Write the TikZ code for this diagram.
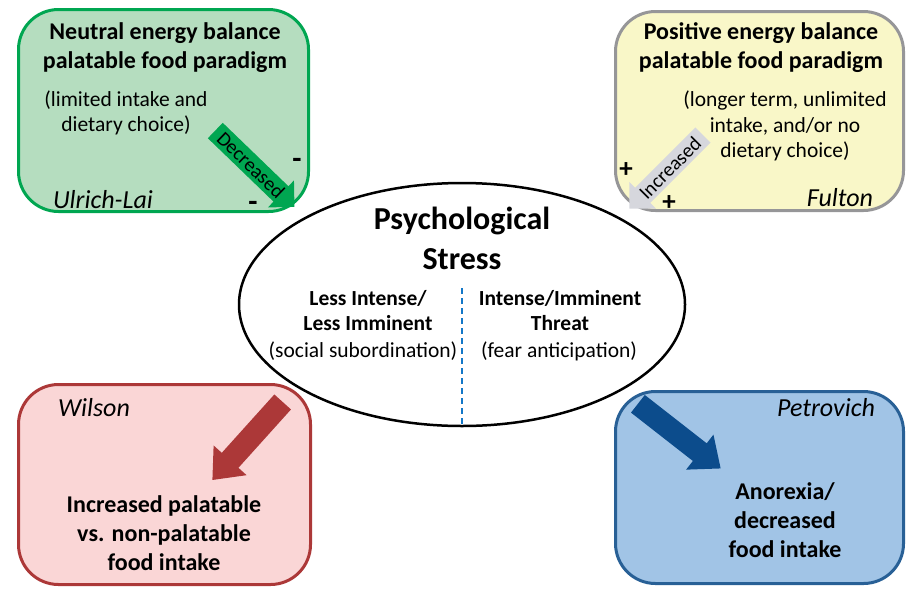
\documentclass[tikz,border=0pt]{standalone}
\usepackage{fontspec}
\setmainfont{Carlito}
\usetikzlibrary{shapes.geometric,shapes.arrows}

\definecolor{neutralline}{RGB}{0,166,81}
\definecolor{neutralfill}{RGB}{181,221,191}
\definecolor{positiveline}{RGB}{150,150,152}
\definecolor{positivefill}{RGB}{249,247,200}
\definecolor{wilsonline}{RGB}{172,56,56}
\definecolor{wilsonfill}{RGB}{250,214,214}
\definecolor{petroline}{RGB}{40,96,150}
\definecolor{petrofill}{RGB}{161,196,230}
\definecolor{petroarrow}{RGB}{12,76,140}
\definecolor{grayarrow}{RGB}{214,215,221}
\definecolor{divider}{RGB}{20,120,200}

\begin{document}
\begin{tikzpicture}[x=1pt,y=-1pt,
    box/.style={draw,line width=3pt,rounded corners=40pt,inner sep=0pt},
    title/.style={font=\fontsize{24}{29}\selectfont\bfseries,align=center},
    note/.style={font=\fontsize{21.5}{25.5}\selectfont,align=center},
    who/.style={font=\fontsize{26}{28}\selectfont\itshape},
    sign/.style={font=\fontsize{30}{30}\selectfont\bfseries,inner sep=0pt},
    blockarrow/.style={single arrow,single arrow tip angle=90,inner xsep=2pt,
      minimum height=110pt,font=\fontsize{20}{20}\selectfont},
    plainarrow/.style={single arrow,single arrow tip angle=80,single arrow head extend=11pt,
      text height=0pt,text depth=0pt,inner xsep=0pt,inner ysep=11pt,minimum height=105pt}]
  \useasboundingbox (0,0) rectangle (909,592);

  % four corner boxes
  \node[box,draw=neutralline,fill=neutralfill,minimum width=290pt,minimum height=202pt] (neutral) at (163.5,110.5) {};
  \node[box,draw=positiveline,fill=positivefill,minimum width=288pt,minimum height=199pt] (positive) at (759.5,111) {};
  \node[box,draw=wilsonline,fill=wilsonfill,minimum width=292pt,minimum height=200pt] (wilson) at (164.5,484.5) {};
  \node[box,draw=petroline,fill=petrofill,minimum width=288pt,minimum height=192pt] (petrovich) at (759.5,487.5) {};

  % neutral energy balance
  \node[title] (neutraltitle) at (165,47.5) {Neutral energy balance\\palatable food paradigm};
  \node[note] (neutralnote) at (126,113) {(limited intake and\\dietary choice)};
  \node[who] (ulrich) at (103,200) {Ulrich-Lai};
  \node[blockarrow,fill=neutralline,rotate=-44,single arrow head extend=8pt,inner ysep=3.5pt] (decreased) at (251,165) {Decreased};
  \node[sign] (minusa) at (297,163) {-};
  \node[sign] (minusb) at (253,206) {-};

  % positive energy balance
  \node[title] (positivetitle) at (761,47.5) {Positive energy balance\\palatable food paradigm};
  \node[note] (positivenote) at (785,126) {(longer term, unlimited\\intake, and/or no\\dietary choice)};
  \node[who] (fulton) at (840,198) {Fulton};
  \node[blockarrow,fill=grayarrow,rotate=45,shape border rotate=180,single arrow head extend=8pt,inner ysep=3.5pt,minimum height=104pt] (increased) at (670,168) {Increased};
  \node[sign,font=\fontsize{27}{27}\selectfont\bfseries] (plusa) at (626,170) {+};
  \node[sign,font=\fontsize{27}{27}\selectfont\bfseries] (plusb) at (669,203) {+};

  % psychological stress
  \node[ellipse,draw,line width=2.5pt,fill=white,minimum width=446pt,minimum height=243pt] (stress) at (462,304.5) {};
  \node[font=\fontsize{32}{40}\selectfont\bfseries,align=center] (stresstitle) at (462,238) {Psychological\\Stress};
  \coordinate (divtop) at (462,288);
  \draw[divider,line width=1.2pt,dash pattern=on 6pt off 4pt] (divtop) -- (stress.south);
  \node[title,font=\fontsize{21.5}{25}\selectfont\bfseries] (lessintense) at (368,310.5) {Less Intense/\\Less Imminent};
  \node[note] (social) at (363,351) {(social subordination)};
  \node[title,font=\fontsize{21.5}{25}\selectfont\bfseries] (intense) at (560,310.5) {Intense/Imminent\\Threat};
  \node[note] (fear) at (559,351) {(fear anticipation)};

  % increased palatable intake
  \node[who] (wilsonname) at (94,408) {Wilson};
  \node[plainarrow,fill=wilsonline,rotate=228] (wilsonarrow) at (252,436) {};
  \node[title] (wilsontext) at (164,533) {Increased palatable\\vs. non-palatable\\food intake};

  % anorexia
  \node[who] (petroname) at (826,408) {Petrovich};
  \node[plainarrow,fill=petroarrow,rotate=-38] (petroarrow) at (674,432) {};
  \node[title] (petrotext) at (785,520.5) {Anorexia/\\decreased\\food intake};
\end{tikzpicture}
\end{document}
